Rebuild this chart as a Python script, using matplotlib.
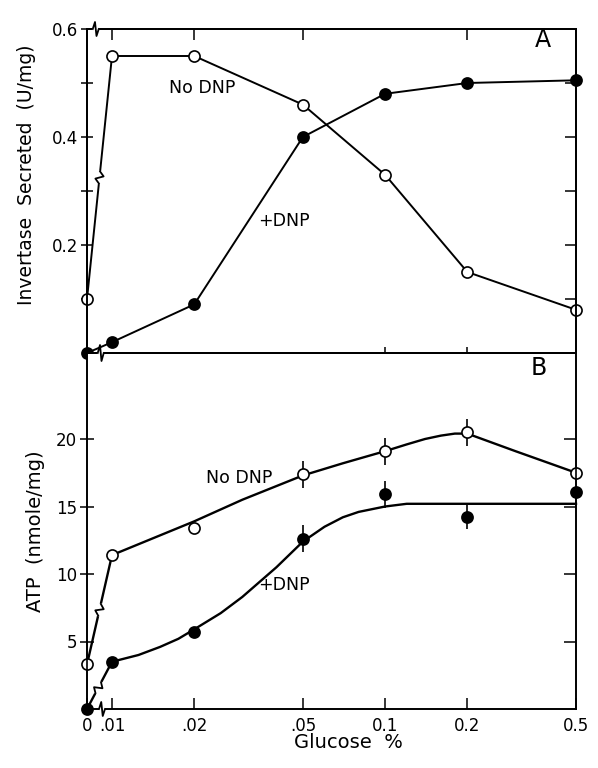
import numpy as np
import matplotlib
matplotlib.use('Agg')
import matplotlib.pyplot as plt
import matplotlib.transforms as mtransforms
from matplotlib.lines import Line2D

plt.rcParams['font.family'] = ['DejaVu Sans']

# ---------------- data ----------------
glucose = [0, 0.01, 0.02, 0.05, 0.1, 0.2, 0.5]
xtick_vals = [0, 0.01, 0.02, 0.05, 0.1, 0.2, 0.5]
xtick_labels = ['0', '.01', '.02', '.05', '0.1', '0.2', '0.5']

# Panel A: invertase secreted (U/mg)
inv_no_dnp = [0.10, 0.55, 0.55, 0.46, 0.33, 0.15, 0.08]
inv_dnp = [0.00, 0.02, 0.09, 0.40, 0.48, 0.50, 0.505]

# Panel B: ATP (nmole/mg)
atp_no_dnp = [3.3, 11.4, 13.4, 17.4, 19.1, 20.5, 17.5]
atp_no_dnp_err = [0, 0, 0, 1.0, 1.0, 1.0, 0]
atp_dnp = [0.0, 3.5, 5.7, 12.6, 15.9, 14.2, 16.1]
atp_dnp_err = [0, 0, 0, 1.0, 1.0, 0.9, 0.4]

# hand-drawn fitted curves in panel B
fit_no_dnp_x = [0, 0.01, 0.02, 0.03, 0.05, 0.07, 0.1, 0.12, 0.14, 0.16, 0.18, 0.2,
                0.3, 0.4, 0.5]
fit_no_dnp_y = [3.3, 11.4, 13.9, 15.5, 17.3, 18.2, 19.1, 19.6, 20.0, 20.25, 20.4, 20.4,
                19.1, 18.2, 17.5]
fit_dnp_x = [0, 0.01, 0.0125, 0.015, 0.0175, 0.02, 0.025, 0.03, 0.04, 0.05, 0.06,
             0.07, 0.08, 0.1, 0.12, 0.2, 0.5]
fit_dnp_y = [0, 3.5, 4.0, 4.6, 5.2, 5.9, 7.1, 8.3, 10.5, 12.4, 13.5, 14.2, 14.6,
             15.0, 15.2, 15.2, 15.2]

# ---------------- broken log scale (0 placed left of .01) ----------------
ZERO_POS = 0.0081


def fwd(x):
    x = np.asarray(x, dtype=float)
    return np.where(x > 0, np.log10(np.clip(x, 1e-12, None)), np.log10(ZERO_POS))


def inv(y):
    return 10 ** np.asarray(y, dtype=float)


W, H = 598, 768
fig = plt.figure(figsize=(W / 100, H / 100), dpi=100)
fig.patch.set_facecolor('white')

L, R = 87, 576
TOP_A, MID, BOT_B = 29, 353, 709
axA = fig.add_axes([L / W, 1 - MID / H, (R - L) / W, (MID - TOP_A) / H])
axB = fig.add_axes([L / W, 1 - BOT_B / H, (R - L) / W, (BOT_B - MID) / H])

for ax in (axA, axB):
    ax.set_xscale('function', functions=(fwd, inv))
    ax.set_xlim(0, 0.5)
    for s in ax.spines.values():
        s.set_linewidth(1.2)

axA.set_ylim(0, 0.6)
axB.set_ylim(0, (BOT_B - MID) / 13.5)

# ---- panel A ticks
axA.set_xticks([0.1, 0.2])
axA.set_xticklabels([])
axA.xaxis.set_minor_locator(matplotlib.ticker.NullLocator())
axA.tick_params(axis='x', which='major', direction='inout', length=9, width=1.1)
axA.set_yticks([0.2, 0.4, 0.6])
axA.set_yticklabels(['0.2', '0.4', '0.6'])
axA.set_yticks([0.1, 0.3, 0.5], minor=True)
axA.tick_params(axis='y', which='both', direction='inout', length=9, width=1.1,
                labelsize=12, pad=2)

axA_top = axA.twiny()
axA_top.set_xscale('function', functions=(fwd, inv))
axA_top.set_xlim(0, 0.5)
axA_top.set_xticks([0.01, 0.02, 0.05, 0.2])
axA_top.set_xticklabels([])
axA_top.xaxis.set_minor_locator(matplotlib.ticker.NullLocator())
axA_top.tick_params(axis='x', direction='in', length=8, width=1.1)

axA_r = axA.twinx()
axA_r.set_ylim(0, 0.6)
axA_r.set_yticks([0.1, 0.2, 0.3, 0.4, 0.5])
axA_r.set_yticklabels([])
axA_r.tick_params(axis='y', direction='in', length=8, width=1.1)

# ---- panel B ticks
axB.set_xticks(xtick_vals)
axB.set_xticklabels(xtick_labels)
axB.xaxis.set_minor_locator(matplotlib.ticker.NullLocator())
axB.tick_params(axis='x', direction='in', length=8, width=1.1, labelsize=12, pad=6)
axB.set_yticks([5, 10, 15, 20])
axB.set_yticklabels(['5', '10', '15', '20'])
axB.tick_params(axis='y', direction='inout', length=10, width=1.1, labelsize=12, pad=2)

axB_r = axB.twinx()
axB_r.set_ylim(axB.get_ylim())
axB_r.set_yticks([5, 10, 15, 20])
axB_r.set_yticklabels([])
axB_r.tick_params(axis='y', direction='in', length=9, width=1.1)
for a in (axA_top, axA_r, axB_r):
    for s in a.spines.values():
        s.set_linewidth(1.2)

# ---- panel A data
mk = dict(markersize=8, markeredgewidth=1.2, markeredgecolor='black', clip_on=False)
axA.plot(glucose, inv_no_dnp, '-', color='black', lw=1.4, marker='o',
         markerfacecolor='white', zorder=4, **mk)
axA.plot(glucose, inv_dnp, '-', color='black', lw=1.4, marker='o',
         markerfacecolor='black', zorder=4, **mk)

# ---- panel B data
axB.plot(fit_no_dnp_x, fit_no_dnp_y, '-', color='black', lw=1.7, zorder=3,
         clip_on=False, solid_joinstyle='round')
axB.plot(fit_dnp_x, fit_dnp_y, '-', color='black', lw=1.7, zorder=3,
         clip_on=False, solid_joinstyle='round')
axB.errorbar(glucose, atp_no_dnp, yerr=atp_no_dnp_err, fmt='none', ecolor='black',
             elinewidth=1.2, capsize=0, zorder=3.5)
axB.errorbar(glucose, atp_dnp, yerr=atp_dnp_err, fmt='none', ecolor='black',
             elinewidth=1.2, capsize=0, zorder=3.5)
axB.plot(glucose, atp_no_dnp, linestyle='none', marker='o', markerfacecolor='white',
         zorder=5, **mk)
axB.plot(glucose, atp_dnp, linestyle='none', marker='o', markerfacecolor='black',
         zorder=5, **mk)

# ---- annotations
txt = dict(ha='center', va='center', fontsize=12.5)
axA.text(0.0214, 0.49, 'No DNP', **txt)
axA.text(0.0427, 0.245, '+DNP', **txt)
axB.text(0.0292, 17.1, 'No DNP', **txt)
axB.text(0.0425, 9.2, '+DNP', **txt)
axA.text(0.932, 0.966, 'A', transform=axA.transAxes, ha='center', va='center', fontsize=17)
axB.text(0.923, 0.958, 'B', transform=axB.transAxes, ha='center', va='center', fontsize=17)

fig.text(27 / W, 1 - 175 / H, 'Invertase  Secreted  (U/mg)', rotation=90,
         ha='center', va='center', fontsize=13.5)
fig.text(36 / W, 1 - 531 / H, 'ATP  (nmole/mg)', rotation=90,
         ha='center', va='center', fontsize=14)
fig.text(348 / W, 1 - 743 / H, 'Glucose  %', ha='center', va='center', fontsize=14)


# ---- break marks (zig-zags)
def break_mark(trans, p0, p1, frac=0.5, g=6.0, a=5.0, lw=1.3):
    P0 = np.asarray(trans.transform(p0), float)
    P1 = np.asarray(trans.transform(p1), float)
    d = P1 - P0
    u = d / np.hypot(*d)
    n = np.array([-u[1], u[0]])
    M = P0 + frac * d
    gap = np.array([M - u * g * 1.1, M + u * g * 1.1])
    zz = np.array([M - u * g, M - 0.25 * g * u + n * a, M + 0.25 * g * u - n * a, M + u * g])
    idt = mtransforms.IdentityTransform()
    fig.add_artist(Line2D(gap[:, 0], gap[:, 1], color='white', lw=4,
                          transform=idt, zorder=10, solid_capstyle='butt'))
    fig.add_artist(Line2D(zz[:, 0], zz[:, 1], color='black', lw=lw,
                          transform=idt, zorder=11))


blendA = mtransforms.blended_transform_factory(axA.transData, axA.transAxes)
blendB = mtransforms.blended_transform_factory(axB.transData, axB.transAxes)
# on the connecting lines between 0 and .01
break_mark(axA.transData, (glucose[0], inv_no_dnp[0]), (glucose[1], inv_no_dnp[1]), 0.5, g=6, a=4)
break_mark(axB.transData, (glucose[0], atp_no_dnp[0]), (glucose[1], atp_no_dnp[1]), 0.5, g=6, a=4)
break_mark(axB.transData, (glucose[0], atp_dnp[0]), (glucose[1], atp_dnp[1]), 0.45, g=6, a=4)
# on the axes
break_mark(blendA, (glucose[0], 1), (glucose[1], 1), 0.35, g=3, a=7)
break_mark(blendA, (glucose[0], 0), (glucose[1], 0), 0.55, g=3, a=8)
break_mark(blendB, (glucose[0], 0), (glucose[1], 0), 0.6, g=3, a=7)

fig.savefig('out.png', dpi=100, facecolor='white')
